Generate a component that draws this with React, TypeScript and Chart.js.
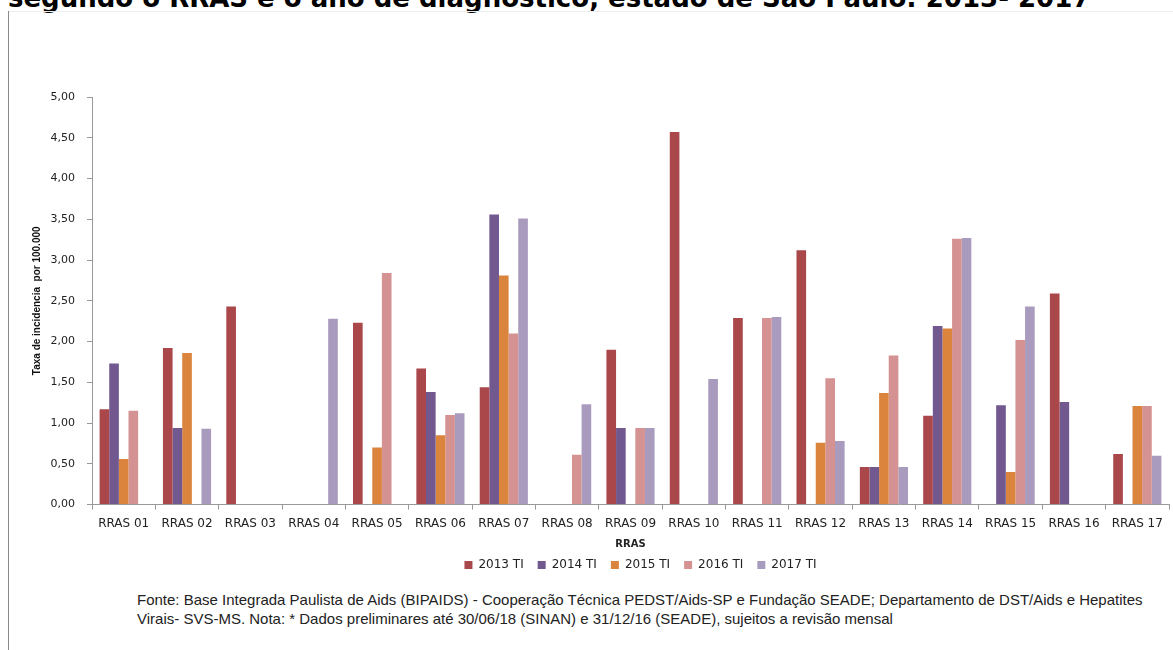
import React, { useEffect, useRef } from "react";
import { Chart, registerables } from "chart.js";

Chart.register(...registerables);

const categories = [
  "RRAS 01", "RRAS 02", "RRAS 03", "RRAS 04", "RRAS 05", "RRAS 06",
  "RRAS 07", "RRAS 08", "RRAS 09", "RRAS 10", "RRAS 11", "RRAS 12",
  "RRAS 13", "RRAS 14", "RRAS 15", "RRAS 16", "RRAS 17",
];

const ti2013 = [1.17, 1.92, 2.43, 0, 2.23, 1.67, 1.44, 0, 1.90, 4.57, 2.29, 3.12, 0.46, 1.09, 0, 2.59, 0.62];
const ti2014 = [1.73, 0.94, 0, 0, 0, 1.38, 3.56, 0, 0.94, 0, 0, 0, 0.46, 2.19, 1.22, 1.26, 0];
const ti2015 = [0.56, 1.86, 0, 0, 0.70, 0.85, 2.81, 0, 0, 0, 0, 0.76, 1.37, 2.16, 0.40, 0, 1.21];
const ti2016 = [1.15, 0, 0, 0, 2.84, 1.10, 2.10, 0.61, 0.94, 0, 2.29, 1.55, 1.83, 3.26, 2.02, 0, 1.21];
const ti2017 = [0, 0.93, 0, 2.28, 0, 1.12, 3.51, 1.23, 0.94, 1.54, 2.30, 0.78, 0.46, 3.27, 2.43, 0, 0.60];

const seriesLabels = ["2013 TI", "2014 TI", "2015 TI", "2016 TI", "2017 TI"];
const seriesColors = ["#A9474A", "#71588F", "#DB843D", "#D49392", "#A99BBE"];

const titleText = "segundo o RRAS e o ano de diagnóstico, estado de São Paulo: 2013- 2017";
const yAxisTitle = "Taxa de incidencia  por 100.000";
const xAxisTitle = "RRAS";
const footerLines = [
  "Fonte: Base Integrada Paulista de Aids (BIPAIDS) - Cooperação Técnica PEDST/Aids-SP e Fundação SEADE; Departamento de DST/Aids e Hepatites",
  "Virais- SVS-MS. Nota: * Dados preliminares até 30/06/18 (SINAN) e 31/12/16 (SEADE), sujeitos a revisão mensal",
];

// nudges the bottom legend a little to the right of the plot centre
const legendShift = {
  id: "legendShift",
  afterLayout(chart: any) {
    const l = chart.legend;
    if (l) {
      l.left += 10;
      l.right += 10;
    }
  },
};

function IncidenceChart() {
  const canvasRef = useRef<HTMLCanvasElement | null>(null);

  useEffect(() => {
    if (!canvasRef.current) return;
    const values = [ti2013, ti2014, ti2015, ti2016, ti2017];
    const chart = new Chart(canvasRef.current, {
      type: "bar",
      data: {
        labels: categories,
        datasets: values.map((v, i) => ({
          label: seriesLabels[i],
          data: v,
          backgroundColor: seriesColors[i],
          borderWidth: 0,
          categoryPercentage: 0.76,
          barPercentage: 1.0,
        })),
      },
      plugins: [legendShift],
      options: {
        animation: false,
        responsive: false,
        maintainAspectRatio: false,
        layout: { padding: { top: 37, right: 4, left: 0, bottom: 6 } },
        plugins: {
          tooltip: { enabled: false },
          legend: {
            position: "bottom",
            fullSize: false,
            labels: {
              boxWidth: 8,
              boxHeight: 8,
              padding: 14,
              color: "#222",
              font: { family: "DejaVu Sans", size: 12 },
            },
          },
        },
        scales: {
          x: {
            grid: {
              offset: true,
              drawOnChartArea: false,
              drawTicks: true,
              tickLength: 5,
              color: "#999",
            },
            border: { color: "#999", width: 1 },
            ticks: {
              color: "#222",
              padding: 7,
              maxRotation: 0,
              autoSkip: false,
              font: { family: "DejaVu Sans", size: 12 },
            },
            title: {
              display: true,
              text: xAxisTitle,
              color: "#222",
              padding: { top: 0, bottom: -5 },
              font: { family: "DejaVu Sans", size: 10, weight: "bold" },
            },
          },
          y: {
            min: 0,
            max: 5,
            afterFit: (scale: any) => {
              scale.width = 92;
            },
            grid: {
              drawOnChartArea: false,
              drawTicks: true,
              tickLength: 5,
              color: "#999",
            },
            border: { color: "#999", width: 1 },
            ticks: {
              stepSize: 0.5,
              color: "#222",
              padding: 12,
              font: { family: "DejaVu Sans", size: 11 },
              callback: (v: any) => Number(v).toFixed(2).replace(".", ","),
            },
            title: {
              display: true,
              text: yAxisTitle,
              color: "#111",
              padding: { top: 31, bottom: 0 },
              font: { family: "Liberation Sans", size: 10, weight: "bold" },
            },
          },
        },
      },
    });
    return () => chart.destroy();
  }, []);

  return (
    <canvas
      ref={canvasRef}
      width={1173}
      height={527}
      style={{ position: "absolute", left: 0, top: 60, width: 1173, height: 527 }}
    />
  );
}

export default function App() {
  return (
    <div
      style={{
        position: "fixed",
        left: 0,
        top: 0,
        width: 1173,
        height: 650,
        overflow: "hidden",
        background: "#fff",
      }}
    >
      <div
        style={{
          position: "absolute",
          left: 8,
          top: -15,
          whiteSpace: "nowrap",
          fontFamily: "DejaVu Sans",
          fontWeight: "bold",
          fontSize: 26,
          lineHeight: "26px",
          color: "#000",
        }}
      >
        {titleText}
      </div>
      <div style={{ position: "absolute", left: 8, top: 11, width: 1165, height: 1, background: "#eee" }} />
      <div style={{ position: "absolute", left: 8, top: 11, width: 1, height: 639, background: "#8a8a8a" }} />
      <IncidenceChart />
      <div
        style={{
          position: "absolute",
          left: 137,
          top: 590,
          fontFamily: "Liberation Sans",
          fontSize: 15,
          lineHeight: "19px",
          color: "#222",
          whiteSpace: "nowrap",
        }}
      >
        {footerLines.map((l, i) => (
          <div key={i}>{l}</div>
        ))}
      </div>
    </div>
  );
}
